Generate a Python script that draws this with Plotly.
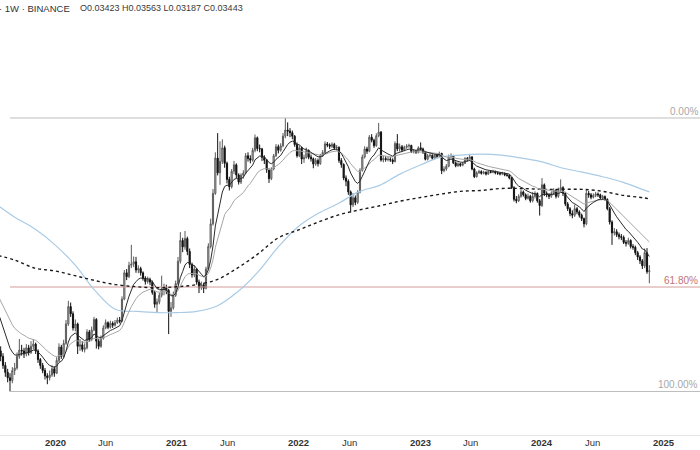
import numpy as np
import pandas as pd
import plotly.graph_objects as go

# ETH/BTC weekly (Binance), values in milli-BTC (x 0.001)
# closes before the visible window, only used to warm up the moving averages
pre_close = [37.5, 36.8, 36.0, 34.5, 34.2, 35.6, 36.2, 34.8, 34.4, 34.0,
             34.3, 33.8, 33.9, 33.1, 31.8, 31.4, 30.2, 29.8, 31.2, 32.5,
             31.4, 29.6, 28.8, 27.5, 27.0, 25.4]

close = [
    21.8, 21.0, 20.3, 19.2, 18.4, 17.8, 17.5, 18.6, 18.9, 20.3,
    21.1, 21.0, 20.6, 21.4, 20.8, 21.6, 21.9, 21.0, 19.9, 19.2,
    18.6, 18.0, 17.8, 18.1, 18.8, 18.3, 19.8, 21.5, 20.3, 22.0,
    24.8, 27.6, 26.4, 24.2, 24.8, 21.6, 21.8, 21.2, 21.4, 23.6,
    22.5, 23.9, 25.5, 22.3, 21.6, 22.7, 24.2, 25.0, 24.3, 24.9,
    24.6, 25.0, 25.4, 25.2, 28.9, 34.0, 33.2, 35.6, 35.9, 36.4,
    34.6, 34.9, 34.0, 32.9, 32.2, 32.6, 32.1, 30.1, 28.0, 28.4,
    29.6, 30.8, 31.0, 30.5, 26.8, 27.4, 29.6, 31.8, 36.5, 41.5,
    39.9, 42.0, 38.8, 35.8, 33.6, 34.8, 32.1, 31.0, 31.6, 30.9,
    34.8, 40.0, 46.0, 55.5, 69.0, 63.0, 67.6, 73.5, 66.8, 60.5,
    57.8, 63.6, 66.2, 62.2, 59.5, 62.1, 62.9, 70.0, 68.8, 68.1,
    72.4, 78.2, 73.2, 73.0, 69.3, 68.1, 64.2, 60.8, 64.5, 70.0,
    74.0, 72.4, 74.4, 79.0, 82.0, 81.5, 80.7, 79.0, 75.0, 70.0,
    73.5, 68.6, 69.2, 72.3, 69.4, 68.7, 66.5, 68.0, 66.7, 70.0,
    71.4, 75.3, 74.8, 74.2, 75.1, 73.4, 73.7, 68.0, 66.3, 61.0,
    59.8, 56.0, 51.7, 54.0, 52.5, 56.0, 64.0, 69.5, 73.0, 72.0,
    78.5, 77.0, 74.5, 79.2, 81.0, 68.2, 68.8, 68.4, 68.5, 68.2,
    67.5, 75.5, 73.0, 74.0, 72.5, 73.8, 74.3, 74.6, 71.8, 72.0,
    71.5, 73.5, 73.0, 71.5, 68.5, 70.0, 70.2, 68.9, 70.2, 69.8,
    71.0, 63.8, 64.5, 65.6, 69.5, 70.0, 67.0, 65.8, 66.6, 66.0,
    66.8, 68.8, 68.2, 69.5, 64.5, 61.5, 63.0, 63.5, 62.8, 63.2,
    62.5, 63.5, 63.2, 63.5, 63.0, 62.8, 62.6, 62.8, 62.2, 62.0,
    61.0, 57.5, 53.5, 53.0, 54.5, 56.0, 55.0, 53.8, 54.5, 53.0,
    54.5, 55.5, 53.0, 51.5, 58.5, 55.5, 55.0, 54.5, 55.5, 56.5,
    54.5, 56.5, 57.5, 55.5, 52.0, 50.5, 49.0, 48.5, 50.5, 49.5,
    48.5, 47.5, 46.0, 55.5, 55.0, 54.2, 54.8, 55.3, 55.0, 54.0,
    54.4, 53.5, 50.5, 46.5, 43.5, 43.8, 43.0, 42.5, 42.3, 41.0,
    40.8, 41.5, 40.0, 39.8, 38.5, 37.5, 36.6, 35.5, 38.5, 34.23,
    34.43]

high = [
    25.9, 22.6, 21.6, 20.7, 19.6, 18.8, 18.3, 19.0, 19.5, 20.8,
    22.6, 21.8, 21.4, 21.9, 21.8, 22.3, 22.6, 22.1, 21.2, 20.1,
    19.5, 18.9, 18.3, 18.6, 19.2, 19.1, 20.2, 22.0, 21.8, 22.5,
    25.4, 28.6, 28.3, 26.8, 25.5, 25.0, 22.6, 22.3, 22.0, 24.0,
    23.9, 24.4, 25.9, 25.7, 22.6, 23.1, 24.6, 25.5, 25.2, 25.3,
    25.2, 25.4, 25.8, 25.9, 29.4, 34.6, 34.8, 36.4, 40.4, 37.6,
    37.5, 35.6, 35.3, 34.3, 33.3, 33.2, 33.0, 32.4, 30.4, 29.0,
    30.1, 33.4, 31.8, 31.6, 30.8, 28.4, 30.3, 32.4, 37.5, 43.7,
    42.2, 44.0, 42.5, 39.5, 36.2, 35.6, 35.0, 32.6, 32.2, 32.0,
    35.3, 40.8, 47.5, 57.0, 71.5, 80.5, 76.5, 77.5, 74.5, 67.5,
    61.5, 64.5, 67.8, 66.8, 62.8, 62.8, 64.0, 71.2, 71.5, 70.2,
    73.5, 79.8, 78.8, 75.0, 73.5, 70.2, 68.6, 64.8, 65.2, 70.8,
    75.2, 75.0, 75.6, 80.5, 88.36, 86.0, 83.0, 81.8, 79.5, 76.0,
    74.6, 74.0, 70.5, 73.6, 72.8, 70.5, 69.2, 69.0, 68.8, 70.8,
    72.5, 76.5, 76.2, 75.6, 76.0, 75.8, 74.8, 74.2, 69.0, 66.8,
    62.0, 60.5, 56.5, 55.6, 54.8, 56.6, 64.8, 70.5, 74.2, 74.0,
    79.5, 80.0, 77.8, 80.4, 85.7, 81.5, 70.0, 69.8, 69.5, 69.4,
    68.9, 76.5, 80.0, 75.5, 74.8, 74.5, 75.2, 75.4, 74.9, 72.8,
    72.5, 74.2, 76.0, 73.6, 72.0, 70.8, 71.0, 70.6, 70.8, 71.0,
    71.8, 71.3, 65.6, 66.5, 70.5, 71.0, 70.4, 67.6, 67.2, 67.0,
    67.4, 69.4, 69.5, 70.8, 69.8, 65.0, 63.6, 64.2, 64.0, 63.8,
    63.6, 64.0, 64.0, 64.2, 63.9, 63.5, 63.2, 63.4, 63.1, 62.7,
    62.4, 61.4, 58.0, 54.6, 55.2, 56.8, 56.5, 55.5, 55.4, 55.0,
    56.0, 56.2, 55.8, 53.6, 61.0, 59.0, 56.2, 55.6, 56.2, 57.3,
    57.0, 57.5, 60.5, 58.0, 56.0, 52.6, 51.0, 50.0, 51.8, 51.0,
    50.0, 49.0, 47.8, 56.8, 56.3, 55.6, 55.5, 56.0, 55.8, 55.4,
    55.0, 54.8, 53.8, 51.0, 47.0, 44.8, 44.5, 43.6, 43.2, 42.8,
    41.6, 42.2, 41.8, 40.6, 40.2, 38.9, 37.9, 37.0, 39.5, 39.6,
    35.63]

low = [
    21.2, 20.3, 19.7, 18.8, 17.9, 17.3, 16.35, 17.2, 18.1, 18.7,
    20.0, 20.4, 20.1, 20.3, 20.4, 20.6, 21.2, 20.6, 19.5, 18.8,
    18.3, 17.6, 17.1, 17.5, 17.9, 17.9, 18.2, 19.6, 20.0, 20.1,
    21.8, 24.5, 25.9, 23.8, 23.7, 20.6, 21.0, 20.9, 20.8, 21.2,
    22.2, 22.3, 23.7, 21.3, 21.2, 21.4, 22.5, 24.0, 24.0, 24.1,
    24.2, 24.4, 24.8, 24.9, 25.1, 28.7, 32.5, 32.9, 35.0, 35.2,
    34.0, 33.9, 33.4, 32.4, 31.6, 31.8, 31.5, 29.7, 27.4, 26.6,
    28.0, 29.2, 29.6, 29.8, 23.3, 25.9, 27.1, 29.3, 31.5, 36.0,
    38.6, 39.2, 37.9, 35.0, 33.0, 33.1, 31.6, 30.0, 30.6, 30.0,
    30.7, 34.5, 39.5, 45.5, 55.0, 62.0, 58.5, 66.5, 65.0, 59.0,
    56.5, 57.2, 62.5, 61.0, 58.6, 58.8, 60.8, 62.5, 67.5, 66.8,
    67.5, 71.5, 72.0, 71.5, 67.8, 66.5, 63.0, 59.2, 60.2, 64.0,
    69.5, 71.0, 71.8, 73.8, 78.0, 79.0, 78.5, 77.5, 74.0, 69.2,
    69.4, 66.5, 67.0, 68.8, 68.5, 67.5, 64.8, 65.8, 65.5, 66.2,
    69.5, 71.0, 73.8, 73.0, 73.5, 72.6, 72.2, 67.0, 65.0, 60.2,
    58.0, 55.0, 49.3, 51.0, 51.6, 52.0, 55.5, 63.5, 68.8, 70.8,
    71.5, 76.0, 73.5, 74.0, 78.5, 67.5, 67.2, 67.5, 67.6, 67.4,
    66.5, 67.2, 72.0, 71.8, 71.6, 72.0, 73.0, 73.5, 71.2, 71.0,
    70.8, 71.0, 72.4, 70.8, 68.0, 68.0, 69.2, 68.2, 68.5, 69.0,
    69.2, 62.5, 63.2, 63.8, 65.2, 68.8, 66.5, 65.2, 65.4, 65.4,
    65.6, 66.5, 67.6, 67.8, 64.0, 61.0, 61.2, 62.6, 62.3, 62.4,
    62.0, 62.2, 62.8, 62.8, 62.4, 62.2, 62.0, 62.1, 61.7, 61.5,
    60.5, 57.0, 52.8, 52.2, 52.6, 54.0, 54.4, 53.2, 53.4, 52.4,
    52.5, 53.8, 52.4, 48.4, 51.0, 54.6, 54.2, 53.6, 54.0, 55.0,
    53.8, 54.0, 56.0, 54.6, 51.3, 49.8, 48.2, 47.6, 48.0, 48.8,
    47.8, 46.8, 45.0, 45.6, 54.0, 53.5, 53.8, 54.2, 54.3, 53.5,
    53.4, 53.0, 50.0, 45.8, 40.4, 42.8, 42.4, 41.8, 41.6, 40.6,
    40.0, 40.4, 39.5, 39.2, 37.9, 36.8, 35.9, 34.8, 35.0, 33.8,
    31.87]

# long moving averages (light blue and dotted black)
ma_dates = ["2019-07-15", "2019-09-01", "2019-11-01", "2020-01-01", "2020-03-01",
            "2020-05-01", "2020-07-01", "2020-09-01", "2020-11-01", "2021-01-01",
            "2021-03-01", "2021-05-01", "2021-07-01", "2021-09-01", "2021-11-01",
            "2022-01-01", "2022-03-01", "2022-05-01", "2022-07-01", "2022-09-01",
            "2022-11-01", "2023-01-01", "2023-03-01", "2023-05-01", "2023-07-01",
            "2023-09-01", "2023-11-01", "2024-01-01", "2024-03-01", "2024-05-01",
            "2024-07-01", "2024-09-01", "2024-11-01", "2024-11-18"]
ma_blue = [51.4, 48.0, 44.6, 40.4, 35.7, 30.4, 27.1, 26.8, 26.6, 26.6,
           26.8, 27.7, 30.2, 34.2, 39.9, 45.3, 49.1, 52.2, 56.1, 58.3,
           62.5, 66.1, 69.3, 70.3, 70.7, 70.3, 69.0, 67.4, 64.9, 63.3,
           61.5, 59.4, 56.7, 56.0]
ma_dotted = [37.8, 36.8, 35.0, 34.4, 33.4, 32.4, 31.6, 31.2, 31.0, 31.2,
             31.6, 32.6, 35.0, 38.2, 42.2, 44.3, 46.5, 48.6, 50.1, 51.4,
             52.9, 54.1, 55.2, 56.2, 56.5, 57.2, 57.2, 56.9, 56.9, 56.9,
             56.2, 54.8, 54.0, 53.6]

# Fibonacci retracement anchors
fib_high = 88.36
fib_low = 16.35
fib_ratios = [0.0, 0.618, 1.0]
fib_labels = ["0.00%", "61.80%", "100.00%"]

tick_dates = ["2020-01-01", "2020-06-01", "2021-01-01", "2021-06-01", "2022-01-01",
              "2022-06-01", "2023-01-01", "2023-06-01", "2024-01-01", "2024-06-01",
              "2025-01-01"]
tick_labels = ["<b>2020</b>", "Jun", "<b>2021</b>", "Jun", "<b>2022</b>", "Jun",
               "<b>2023</b>", "Jun", "<b>2024</b>", "Jun", "<b>2025</b>"]

header_left = "· 1W · BINANCE"
header_ohlc = "O0.03423 H0.03563 L0.03187 C0.03443"

# ---------------------------------------------------------------------------
S = 1000.0
dates = pd.date_range("2019-07-08", periods=len(close), freq="W-MON")
c = np.array(close) / S
h = np.array(high) / S
l = np.array(low) / S
o = np.concatenate([[pre_close[-1] / S], c[:-1]])

all_close = pd.Series(list(np.array(pre_close) / S) + list(c))
ema_fast = all_close.ewm(span=10, adjust=False).mean().values[len(pre_close):]
ema_slow = all_close.ewm(span=21, adjust=False).mean().values[len(pre_close):]

FONT = "Liberation Sans, Arial, sans-serif"
fig = go.Figure()

# Fibonacci levels
lnh, lnl = np.log(fib_high / S), np.log(fib_low / S)
fib_prices = [float(np.exp(lnh - r * (lnh - lnl))) for r in fib_ratios]
fib_line_colors = ["#bdbdbd", "#d49a9a", "#bdbdbd"]
fib_text_colors = ["#a8a8a8", "#c27474", "#a8a8a8"]
for p, lc in zip(fib_prices, fib_line_colors):
    fig.add_trace(go.Scatter(x=[dates[6], pd.Timestamp("2025-12-31")], y=[p, p],
                             mode="lines", line=dict(color=lc, width=1),
                             hoverinfo="skip", showlegend=False))

fig.add_trace(go.Scatter(x=pd.to_datetime(ma_dates), y=np.array(ma_blue) / S,
                         mode="lines", line=dict(color="#a9cbe6", width=1.2, shape="spline"),
                         hoverinfo="skip", showlegend=False))
fig.add_trace(go.Scatter(x=pd.to_datetime(ma_dates), y=np.array(ma_dotted) / S,
                         mode="lines", line=dict(color="#1a1a1a", width=1.4, dash="dot", shape="spline"),
                         hoverinfo="skip", showlegend=False))
fig.add_trace(go.Scatter(x=dates, y=ema_slow, mode="lines",
                         line=dict(color="#a6a6a6", width=1),
                         hoverinfo="skip", showlegend=False))
fig.add_trace(go.Scatter(x=dates, y=ema_fast, mode="lines",
                         line=dict(color="#2b2b2b", width=1),
                         hoverinfo="skip", showlegend=False))

fig.add_trace(go.Candlestick(
    x=dates, open=o, high=h, low=l, close=c,
    increasing=dict(line=dict(color="#5a5a5a", width=1), fillcolor="#d4d4d4"),
    decreasing=dict(line=dict(color="#111111", width=1), fillcolor="#111111"),
    whiskerwidth=0, showlegend=False, hoverinfo="skip"))

PLOT_H = 435.0
for p, txt, tc in zip(fib_prices, fib_labels, fib_text_colors):
    fig.add_annotation(x=1.0, xref="paper", xanchor="right", xshift=0,
                       y=np.log10(p), yref="y", yanchor="middle", yshift=6.5,
                       text=txt, showarrow=False,
                       font=dict(family=FONT, size=10, color=tc))

fig.add_annotation(x=0, xref="paper", xanchor="left", xshift=-3,
                   y=1 - 8 / PLOT_H, yref="paper", yanchor="middle",
                   text=header_left, showarrow=False,
                   font=dict(family=FONT, size=9.5, color="#333333"))
fig.add_annotation(x=80 / 700, xref="paper", xanchor="left", xshift=-2,
                   y=1 - 8 / PLOT_H, yref="paper", yanchor="middle",
                   text=header_ohlc, showarrow=False,
                   font=dict(family=FONT, size=9, color="#3a3a3a"))

# time-axis labels
for td, tl in zip(tick_dates, tick_labels):
    fig.add_annotation(x=pd.Timestamp(td), xref="x", xanchor="center",
                       y=-8 / PLOT_H, yref="paper", yanchor="middle",
                       text=tl, showarrow=False,
                       font=dict(family=FONT, size=9.5, color="#333333"))

fig.update_layout(
    width=700, height=450,
    margin=dict(l=0, r=0, t=0, b=15, autoexpand=False),
    paper_bgcolor="white", plot_bgcolor="white",
    showlegend=False,
    xaxis=dict(type="date", range=["2019-07-20", "2025-04-19"],
               rangeslider=dict(visible=False),
               showgrid=False, zeroline=False,
               showline=True, linecolor="#e6e6e6", linewidth=1,
               ticks="", showticklabels=False, automargin=False),
    yaxis=dict(type="log", range=[-1.9031, -0.7376],
               showgrid=False, zeroline=False, showline=False,
               showticklabels=False, ticks="", automargin=False),
)

fig.write_html("out.html", config={"displayModeBar": False},
               post_script="document.body.style.margin='0px';document.body.style.overflow='hidden';")
